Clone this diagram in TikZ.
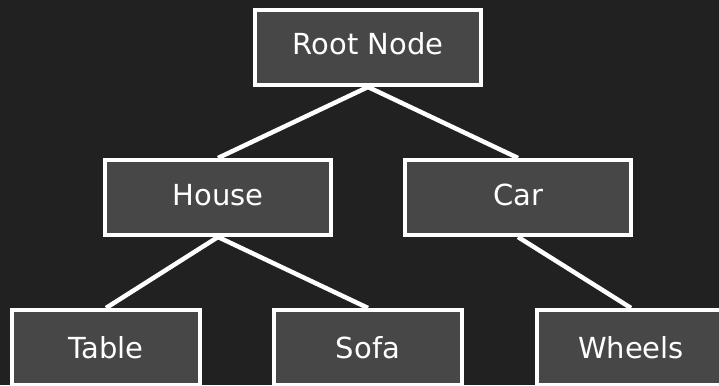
\documentclass[tikz,border=0pt]{standalone}
\usepackage{fontspec}
\setmainfont{DejaVu Sans}
\definecolor{bgdark}{HTML}{212121}
\definecolor{boxgray}{HTML}{474747}

\begin{document}
\begin{tikzpicture}[x=1pt,y=-1pt,
	box/.style={draw=white,fill=boxgray,line width=4pt,text=white,inner sep=0pt,
		minimum width=226pt,minimum height=75pt,text height=21pt,text depth=6pt,
		font=\fontsize{29}{34}\selectfont},
	leaf/.style={box,minimum width=188pt,text depth=0pt},
	link/.style={draw=white,line width=4.5pt}]
			\fill [bgdark] (0,0) rectangle (719,385);
			\useasboundingbox (0,0) rectangle (719,385);
			\begin{scope}
			\clip (0,0) rectangle (719,385);

			\node (root) [box] at (368,47.5) {Root Node};
			\node (house) [box] at (218,197.5) {House};
			\node (car) [box,right of=house,node distance=300pt] {Car};

			\node (table) [leaf] at (106,347.5) {Table};
			\node (sofa) [leaf,right of=table,node distance=262pt] {Sofa};
			\node (wheels) [leaf,right of=sofa,node distance=263pt] {Wheels};

			\draw [link] (root.south) -- (house.north);
			\draw [link] (root.south) -- (car.north);
			\draw [link] (house.south) -- (table.north);
			\draw [link] (house.south) -- (sofa.north);
			\draw [link] (car.south) -- (wheels.north);
			\end{scope}
		\end{tikzpicture}
\end{document}
